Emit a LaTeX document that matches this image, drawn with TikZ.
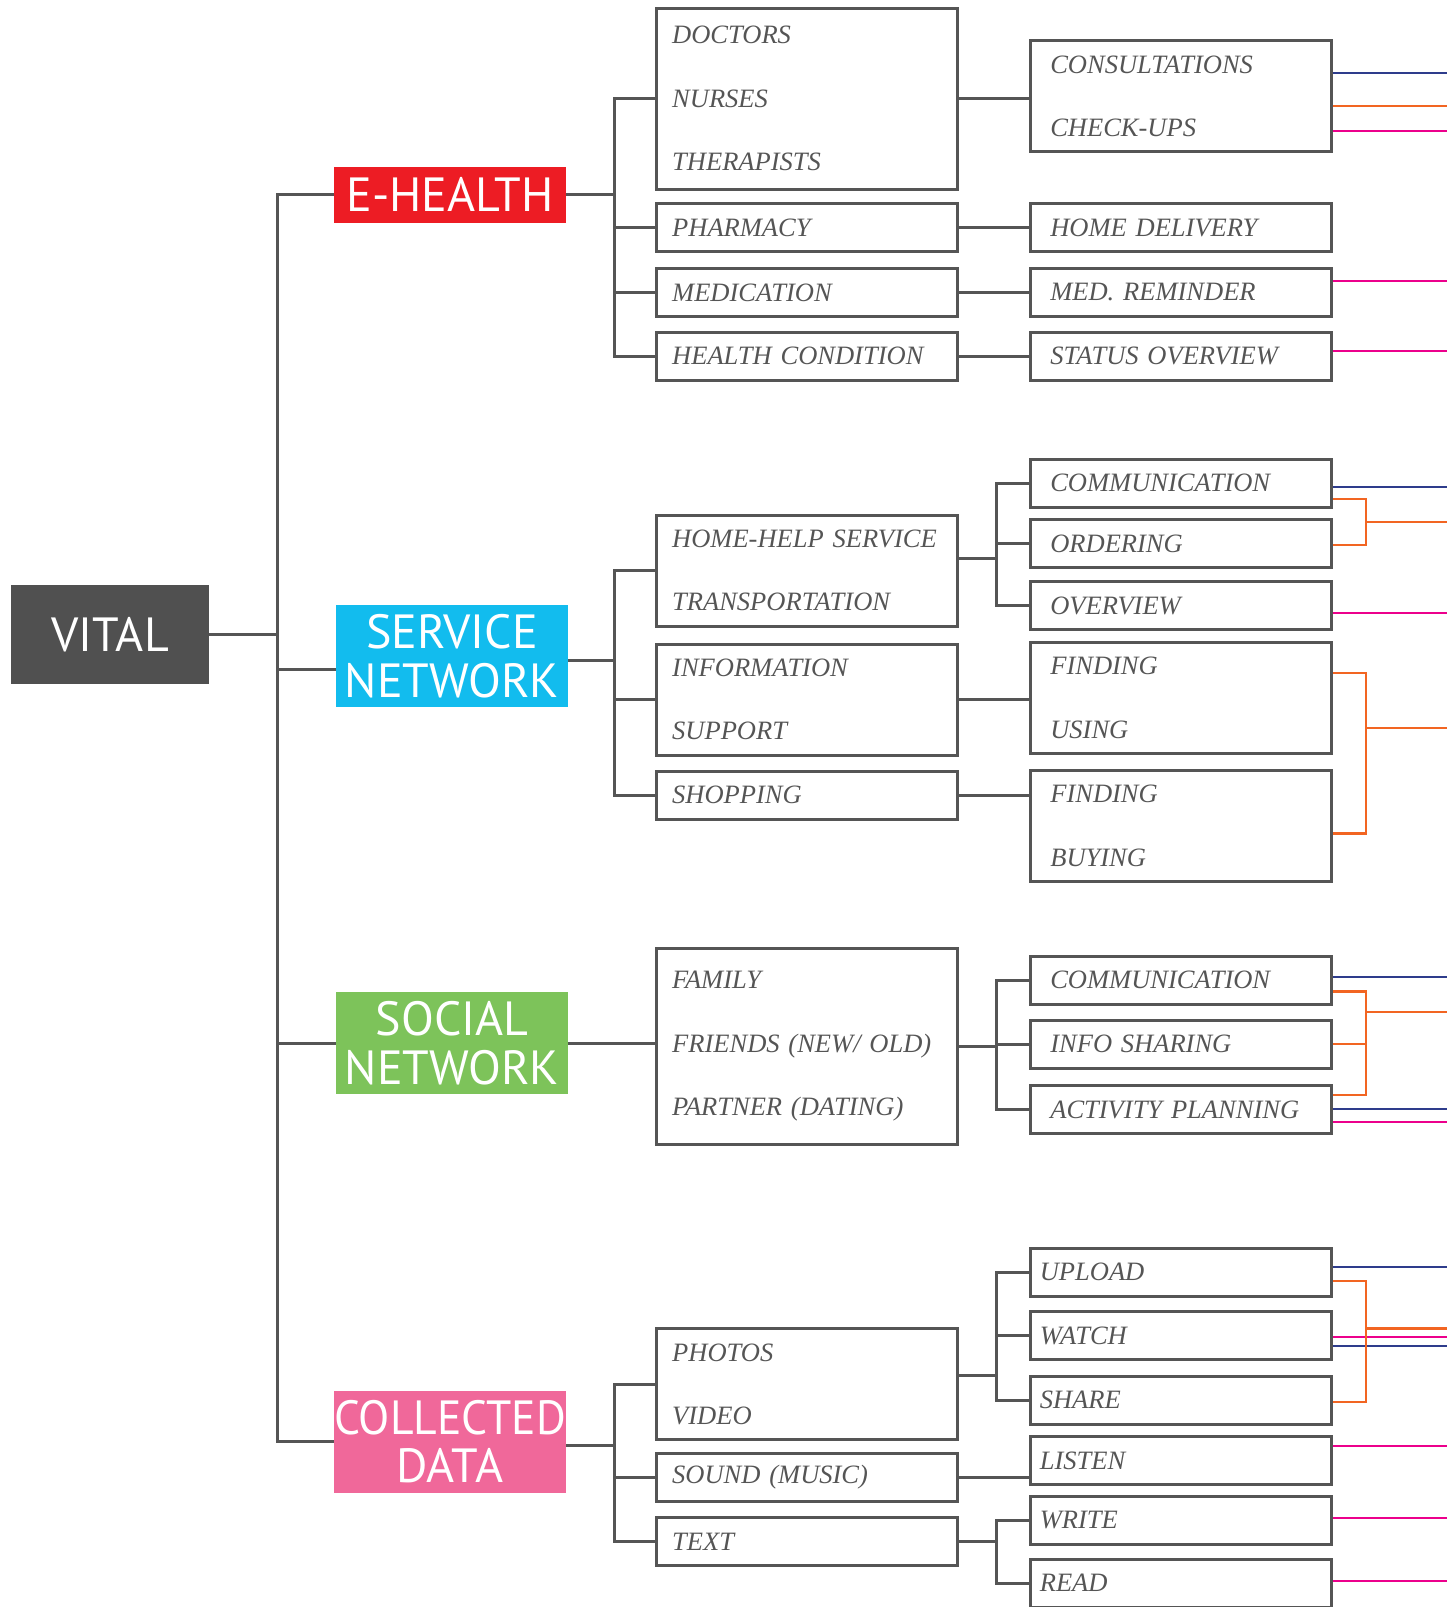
\documentclass[tikz,border=0pt]{standalone}
\usepackage{fontspec}
\setmainfont{Liberation Serif}
\newfontfamily\dinfont{PT Sans}
\usetikzlibrary{calc}

\definecolor{inkgray}{RGB}{85,85,85}
\definecolor{vitalgray}{RGB}{80,80,80}
\definecolor{ehred}{RGB}{237,28,36}
\definecolor{sncyan}{RGB}{18,188,238}
\definecolor{sogreen}{RGB}{125,195,90}
\definecolor{cdpink}{RGB}{240,104,154}
\definecolor{navyln}{RGB}{46,60,140}
\definecolor{orangeln}{RGB}{242,101,34}
\definecolor{magentaln}{RGB}{236,0,140}

\tikzset{
  catbox/.style={fill=#1, text=white, inner sep=0pt, minimum width=232pt,
    minimum height=102pt, align=center, font=\dinfont\fontsize{48}{48.4}\selectfont},
  itembox/.style={draw=inkgray, line width=3pt, text=inkgray, minimum width=301pt,
    minimum height=48pt, inner xsep=16pt, inner ysep=0pt, text width=269pt,
    align=left, font=\itshape\fontsize{26.5}{63.5}\selectfont},
  leafbox/.style={itembox, inner xsep=20pt, text width=261pt},
  mediabox/.style={itembox, inner xsep=9.5pt, text width=282pt},
  wire/.style={draw=inkgray, line width=3pt},
  tagline/.style={line width=2.4pt}
}

\begin{document}
\begin{tikzpicture}[x=1pt, y=-1pt]
  \useasboundingbox (0,0) rectangle (1447,1607);

  % root and the four groups
  \node[fill=vitalgray, text=white, minimum width=198pt, minimum height=99pt,
    font=\dinfont\fontsize{48}{48}\selectfont] (vital) at (110,634.5) {VITAL};
  \node[catbox=ehred, minimum height=55.4pt] (eh) at (450,194.8) {E-HEALTH};
  \node[catbox=sncyan] (sn) at (452,656.2) {SERVICE\\NETWORK};
  \node[catbox=sogreen] (so) at (452,1043.3) {SOCIAL\\NETWORK};
  \node[catbox=cdpink] (cd) at (450,1441.9) {\scalebox{0.95}[1]{COLLECTED}\\DATA};

  % second column
  \node[itembox, minimum height=181pt] (doc) at (806.7,98.8) {DOCTORS\\NURSES\\THERAPISTS};
  \node[itembox] (pha) at (806.7,227.5) {PHARMACY};
  \node[itembox] (med) at (806.7,292.5) {MEDICATION};
  \node[itembox] (hea) at (806.7,356.3) {HEALTH CONDITION};
  \node[itembox, minimum height=111pt] (hhs) at (806.7,570.5) {HOME-HELP SERVICE\\TRANSPORTATION};
  \node[itembox, minimum height=111pt] (inf) at (806.7,699.5) {INFORMATION\\SUPPORT};
  \node[itembox] (shp) at (806.7,795) {SHOPPING};
  \node[itembox, minimum height=196pt] (fam) at (806.7,1046.2) {FAMILY\\FRIENDS (NEW/ OLD)\\PARTNER (DATING)};
  \node[itembox, minimum height=111pt] (pho) at (806.7,1384.2) {PHOTOS\\VIDEO};
  \node[itembox] (snd) at (806.7,1477.3) {SOUND (MUSIC)};
  \node[itembox] (txt) at (806.7,1541.8) {TEXT};

  % third column
  \node[leafbox, minimum height=111pt] (con) at (1180.8,96.3) {CONSULTATIONS\\CHECK-UPS};
  \node[leafbox] (hom) at (1180.8,227.8) {HOME DELIVERY};
  \node[leafbox] (rem) at (1180.8,292.2) {MED. REMINDER};
  \node[leafbox] (sta) at (1180.8,356.2) {STATUS OVERVIEW};
  \node[leafbox] (comA) at (1180.8,483.2) {COMMUNICATION};
  \node[leafbox] (ord) at (1180.8,543.5) {ORDERING};
  \node[leafbox] (ovr) at (1180.8,605.8) {OVERVIEW};
  \node[leafbox, minimum height=111pt] (fiu) at (1180.8,697.8) {FINDING\\USING};
  \node[leafbox, minimum height=111pt] (fib) at (1180.8,825.8) {FINDING\\BUYING};
  \node[leafbox] (comB) at (1180.8,980) {COMMUNICATION};
  \node[leafbox] (ish) at (1180.8,1044.2) {INFO SHARING};
  \node[leafbox] (apl) at (1180.8,1109.5) {ACTIVITY PLANNING};
  \node[mediabox] (upl) at (1180.8,1272) {UPLOAD};
  \node[mediabox] (wat) at (1180.8,1335.5) {WATCH};
  \node[mediabox] (shr) at (1180.8,1400) {SHARE};
  \node[mediabox] (lis) at (1180.8,1460.8) {LISTEN};
  \node[mediabox] (wri) at (1180.8,1520) {WRITE};
  \node[mediabox] (rea) at (1180.8,1583) {READ};

  % bus points
  \coordinate (root) at (277.5,634.5);
  \coordinate (ehbus) at (614.3,194.8);
  \coordinate (snbus) at (614.3,660);
  \coordinate (cdbus) at (614.3,1445);
  \coordinate (hhbus) at (996.7,558.3);
  \coordinate (sobus) at (996.7,1046.2);
  \coordinate (phbus) at (996.7,1375.7);
  \coordinate (txbus) at (996.7,1541.8);
  \coordinate (edge) at (1447,0);
  \coordinate (orA) at (1365.7,521.7);
  \coordinate (orB) at (1365.7,727.7);
  \coordinate (orC) at (1365.7,1011.7);
  \coordinate (orD) at (1365.7,1328.3);

  % tree lines
  \draw[wire] (vital.east) -- (root);
  \draw[wire] (eh.west) -| (root);
  \draw[wire] ([yshift=-13.4pt]sn.west) -| (root);
  \draw[wire] (so.west) -| (root);
  \draw[wire] (cd.west) -| (root);

  \draw[wire] (eh.east) -- (ehbus);
  \foreach \n in {doc,pha,med,hea} \draw[wire] (\n.west) -| (ehbus);
  \draw[wire] (sn.east |- snbus) -- (snbus);
  \foreach \n in {hhs,inf,shp} \draw[wire] (\n.west) -| (snbus);
  \draw[wire] (so.east) -- (so.east -| fam.west);
  \draw[wire] (cd.east |- cdbus) -- (cdbus);
  \foreach \n in {pho,snd,txt} \draw[wire] (\n.west) -| (cdbus);

  \draw[wire] (doc.east) -- (doc.east -| con.west);
  \draw[wire] (pha.east) -- (pha.east -| hom.west);
  \draw[wire] (med.east) -- (med.east -| rem.west);
  \draw[wire] (hea.east) -- (hea.east -| sta.west);
  \draw[wire] (hhs.east |- hhbus) -- (hhbus);
  \foreach \n in {comA,ord,ovr} \draw[wire] (\n.west) -| (hhbus);
  \draw[wire] (inf.east) -- (inf.east -| fiu.west);
  \draw[wire] (shp.east) -- (shp.east -| fib.west);
  \draw[wire] (fam.east |- sobus) -- (sobus);
  \foreach \n in {comB,ish,apl} \draw[wire] (\n.west) -| (sobus);
  \draw[wire] (pho.east |- phbus) -- (phbus);
  \foreach \n in {upl,wat,shr} \draw[wire] (\n.west) -| (phbus);
  \draw[wire] (snd.east) -- (snd.east -| lis.west);
  \draw[wire] (txt.east |- txbus) -- (txbus);
  \foreach \n in {wri,rea} \draw[wire] (\n.west) -| (txbus);

  % coloured leads to the right edge
  \foreach \n/\s/\c in {con/23.3/navyln, con/-9.4/orangeln, con/-34.7/magentaln,
      rem/11.5/magentaln, sta/5.5/magentaln, comA/-3.8/navyln, ovr/-6.9/magentaln,
      comB/3/navyln, apl/0.5/navyln, apl/-12.2/magentaln, upl/5.3/navyln,
      wat/-1.5/magentaln, wat/-10.5/navyln, lis/14.8/magentaln, wri/2.3/magentaln,
      rea/2.3/magentaln}
    \draw[tagline, draw=\c] ([yshift=\s pt]\n.east) -- ([yshift=\s pt]\n.east -| edge);
  \foreach \n/\s/\o in {comA/-15.5/orA, ord/-1.2/orA, fiu/25.1/orB, fib/-7.5/orB,
      comB/-11.3/orC, ish/0/orC, apl/14.5/orC, upl/-8.7/orD, shr/-1.7/orD}
    \draw[tagline, draw=orangeln] ([yshift=\s pt]\n.east) -| (\o);
  \foreach \o in {orA,orB,orC,orD}
    \draw[tagline, draw=orangeln] (\o) -- (\o -| edge);
\end{tikzpicture}
\end{document}
